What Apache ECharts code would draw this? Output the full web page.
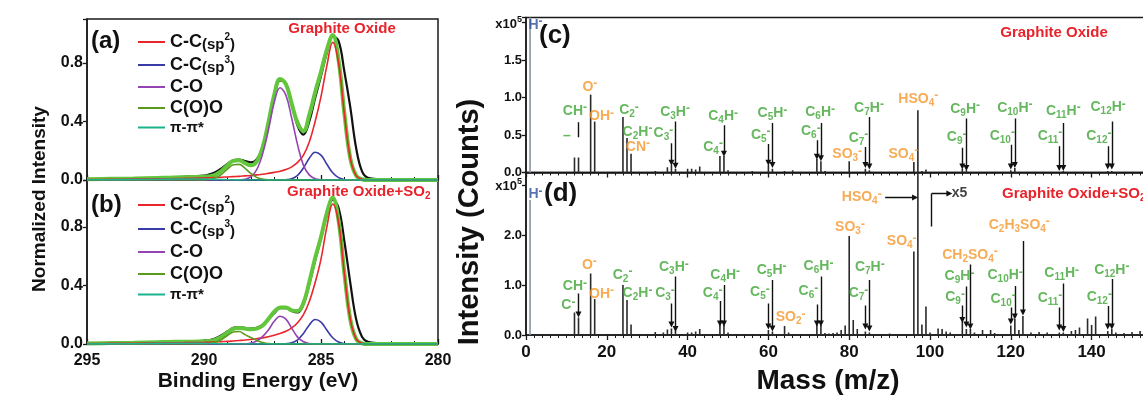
<!DOCTYPE html>
<html><head><meta charset="utf-8">
<script src="https://cdn.jsdelivr.net/npm/echarts@6/dist/echarts.min.js"></script>
<style>html,body{margin:0;padding:0;background:#fff}#c{width:1143px;height:395px}</style>
</head><body><div id="c"></div>
<script>
// ---------- XPS (left) ----------
const BE = [295, 294, 293, 292, 291.5, 291, 290.5, 290, 289.75, 289.5, 289.25, 289, 288.75, 288.5, 288.25, 288, 287.75, 287.5, 287.25, 287, 286.75, 286.5, 286.25, 286, 285.75, 285.5, 285.25, 285, 284.75, 284.5, 284.25, 284, 283.75, 283.5, 283.25, 283, 282.5, 282, 281, 280];

const a_raw = [0.005,0.007,0.01,0.014,0.016,0.02,0.025,0.03,0.04,0.055, 0.08,0.11,0.135,0.14,0.13,0.12,0.14,0.22,0.38,0.56, 0.68,0.66,0.52,0.37,0.31,0.4,0.56,0.71,0.87,0.98, 0.95,0.74,0.5,0.22,0.06,0.015,0.005,0.003,0.002,0.002];
const a_env = [0.005,0.008,0.01,0.014,0.016,0.018,0.02,0.022,0.026,0.037, 0.063,0.1,0.13,0.135,0.115,0.1,0.125,0.22,0.39,0.58, 0.69,0.655,0.52,0.39,0.335,0.445,0.6,0.74,0.89,0.99, 0.82,0.455,0.15,0.03,0.005,0,0,0,0,0];
const a_sp2 = [0.003,0.004,0.006,0.008,0.009,0.010,0.012,0.014,0.015,0.017, 0.019,0.021,0.023,0.025,0.028,0.031,0.035,0.039,0.045,0.052, 0.060,0.072,0.090,0.120,0.170,0.260,0.400,0.570,0.780,0.940, 0.800,0.450,0.150,0.030,0.005,0,0,0,0,0];
const a_sp3 = [0,0,0,0,0,0,0,0,0,0, 0,0,0,0,0,0,0,0,0,0, 0,0.002,0.009,0.032,0.082,0.148,0.19,0.17,0.108,0.049, 0.016,0.004,0,0,0,0,0,0,0,0];
const a_co  = [0,0,0,0,0,0,0,0,0,0, 0,0,0,0.001,0.005,0.021,0.07,0.175,0.34,0.53, 0.63,0.58,0.42,0.24,0.10,0.035,0.009,0.002,0,0, 0,0,0,0,0,0,0,0,0,0];
const a_coo = [0,0,0,0,0,0,0,0.001,0.004,0.015, 0.039,0.074,0.104,0.107,0.081,0.045,0.018,0.006,0.001,0, 0,0,0,0,0,0,0,0,0,0, 0,0,0,0,0,0,0,0,0,0];
const a_pi  = [0,0.002,0.003,0.005,0.006,0.007,0.007,0.006,0.005,0.004, 0.003,0.002,0.001,0.001,0,0,0,0,0,0, 0,0,0,0,0,0,0,0,0,0, 0,0,0,0,0,0,0,0,0,0];

const b_raw = [0.004,0.006,0.009,0.013,0.015,0.016,0.018,0.022,0.027,0.04, 0.06,0.085,0.11,0.115,0.11,0.105,0.11,0.13,0.17,0.21, 0.245,0.245,0.225,0.215,0.27,0.41,0.57,0.72,0.88,0.985, 0.93,0.7,0.42,0.17,0.05,0.015,0.005,0.003,0.002,0.002];
const b_env = [0.004,0.006,0.008,0.012,0.014,0.015,0.016,0.018,0.02,0.03, 0.05,0.078,0.104,0.11,0.105,0.1,0.105,0.125,0.17,0.22, 0.25,0.25,0.23,0.225,0.28,0.423,0.587,0.73,0.895,0.998, 0.844,0.483,0.17,0.035,0.005,0,0,0,0,0];
const b_sp2 = [0.003,0.004,0.005,0.007,0.008,0.009,0.01,0.011,0.012,0.014, 0.016,0.018,0.021,0.024,0.027,0.031,0.036,0.042,0.05,0.06, 0.072,0.087,0.11,0.145,0.2,0.29,0.42,0.58,0.8,0.955, 0.83,0.48,0.17,0.035,0.005,0,0,0,0,0];
const b_sp3 = [0,0,0,0,0,0,0,0,0,0, 0,0,0,0,0,0,0,0,0,0, 0,0.002,0.008,0.028,0.072,0.13,0.167,0.15,0.095,0.043, 0.014,0.003,0,0,0,0,0,0,0,0];
const b_co  = [0,0,0,0,0,0,0,0,0,0, 0,0,0,0,0,0.006,0.02,0.05,0.095,0.155, 0.19,0.17,0.107,0.047,0.015,0.003,0,0,0,0, 0,0,0,0,0,0,0,0,0,0];
const b_coo = [0,0,0,0,0,0,0,0.001,0.003,0.012, 0.031,0.058,0.082,0.085,0.064,0.045,0.025,0.01,0.003,0, 0,0,0,0,0,0,0,0,0,0, 0,0,0,0,0,0,0,0,0,0];
const b_pi  = [0,0.001,0.002,0.004,0.005,0.005,0.005,0.004,0.003,0.002, 0.001,0.001,0,0,0,0,0,0,0,0, 0,0,0,0,0,0,0,0,0,0, 0,0,0,0,0,0,0,0,0,0];

const compNames = ['C-C(sp2)', 'C-C(sp3)', 'C-O', 'C(O)O', 'π-π*'];

// ---------- ToF-SIMS (right) ----------
const massC = [1,12,13,16,17,24,25,26,32,35,36,37,40,41,42,43,48,49,50,56,60,61,64,66,72,73,74,80,84,85,96,97,98,99,108,109,120,121,133,144,145];
const intC  = [2.5,0.2,0.2,1.04,0.68,0.74,0.46,0.25,0.02,0.07,0.1,0.05,0.05,0.05,0.04,0.08,0.22,0.22,0.03,0.02,0.1,0.05,0.02,0.03,0.18,0.15,0.02,0.15,0.05,0.03,0.14,0.83,0.02,0.04,0.05,0.03,0.03,0.06,0.02,0.02,0.02];
const massD = [1,12,13,16,17,24,25,26,32,34,35,36,37,40,41,42,43,44,48,49,50,60,61,62,64,65,66,72,73,74,75,76,77,78,79,80,81,82,84,85,86,90,92,96,97,98,99,100,102,103,104,105,108,109,110,111,113,115,116,120,121,122,123,125,127,129,132,133,135,136,137,139,140,141,144,145,146,148,150,152];
const intD  = [2.7,0.45,0.35,1.23,0.72,1.0,0.7,0.21,0.06,0.05,0.11,0.13,0.09,0.05,0.05,0.07,0.12,0.02,0.2,0.2,0.05,0.1,0.07,0.02,0.18,0.05,0.02,0.23,0.2,0.04,0.03,0.04,0.05,0.1,0.19,1.98,0.3,0.12,0.07,0.05,0.02,0.03,0.02,1.67,4.0,0.21,0.57,0.05,0.13,0.12,0.07,0.05,0.27,0.12,0.12,0.05,0.1,0.1,0.04,0.19,0.32,0.1,0.38,0.05,0.06,0.05,0.05,0.05,0.08,0.1,0.15,0.33,0.2,0.37,0.08,0.12,0.05,0.04,0.06,0.08];

// annotations: [text, mass, value, colourKey, align]
const annotC = [
  ['H^-', 0.6, 1.97, 'b', 'left'], ['–', 10.1, 0.49, 'g'],
  ['CH^-', 12.1, 0.82, 'g'], ['O^-', 15.8, 1.14, 'o'], ['OH^-', 18.7, 0.75, 'o'],
  ['C_2^-', 25.5, 0.83, 'g'], ['C_2H^-', 27.6, 0.54, 'g'], ['CN^-', 27.7, 0.34, 'o'],
  ['C_3H^-', 36.9, 0.81, 'g'], ['C_3^-', 34.0, 0.52, 'g'],
  ['C_4H^-', 48.8, 0.75, 'g'], ['C_4^-', 46.3, 0.34, 'g'],
  ['C_5H^-', 61.0, 0.79, 'g'], ['C_5^-', 58.1, 0.50, 'g'],
  ['C_6H^-', 72.8, 0.80, 'g'], ['C_6^-', 70.5, 0.55, 'g'], ['SO_3^-', 79.5, 0.24, 'o'],
  ['C_7H^-', 84.9, 0.86, 'g'], ['C_7^-', 82.3, 0.46, 'g'],
  ['SO_4^-', 93.4, 0.25, 'o'], ['HSO_4^-', 97.1, 0.98, 'o'],
  ['C_9H^-', 108.7, 0.85, 'g'], ['C_9^-', 106.6, 0.47, 'g'],
  ['C_{10}H^-', 121, 0.86, 'g'], ['C_{10}^-', 117.9, 0.49, 'g'],
  ['C_{11}H^-', 133, 0.82, 'g'], ['C_{11}^-', 129.7, 0.49, 'g'],
  ['C_{12}H^-', 144.1, 0.87, 'g'], ['C_{12}^-', 141.8, 0.48, 'g']
];
const annotD = [
  ['H^-', 0.6, 2.81, 'b', 'left'],
  ['CH^-', 12.1, 0.97, 'g'], ['C^-', 10.5, 0.59, 'g'], ['O^-', 15.7, 1.4, 'o'], ['OH^-', 18.7, 0.82, 'o'],
  ['C_2^-', 23.9, 1.2, 'g'], ['C_2H^-', 27.6, 0.83, 'g'],
  ['C_3H^-', 36.6, 1.35, 'g'], ['C_3^-', 34.4, 0.83, 'g'],
  ['C_4H^-', 49.3, 1.2, 'g'], ['C_4^-', 46.2, 0.83, 'g'],
  ['C_5H^-', 60.8, 1.3, 'g'], ['C_5^-', 57.9, 0.85, 'g'], ['SO_2^-', 65.5, 0.35, 'o'],
  ['HSO_4^-', 83.1, 2.75, 'o'], ['SO_3^-', 80.2, 2.15, 'o'], ['SO_4^-', 93.0, 1.87, 'o'],
  ['C_6H^-', 72.4, 1.37, 'g'], ['C_6^-', 69.9, 0.87, 'g'],
  ['C_7H^-', 85.1, 1.35, 'g'], ['C_7^-', 82.3, 0.83, 'g'],
  ['CH_2SO_4^-', 109.9, 1.6, 'o'], ['C_9H^-', 107.3, 1.17, 'g'], ['C_9^-', 106.2, 0.75, 'g'],
  ['C_2H_3SO_4^-', 122.1, 2.2, 'o'],
  ['C_{10}H^-', 118.6, 1.19, 'g'], ['C_{10}^-', 118.1, 0.72, 'g'],
  ['C_{11}H^-', 132.6, 1.23, 'g'], ['C_{11}^-', 129.7, 0.73, 'g'],
  ['C_{12}H^-', 145, 1.3, 'g'], ['C_{12}^-', 141.9, 0.75, 'g'],
  ['x5', 105.4, 2.83, 'k', 'left']
];
// arrows: [x1, y1, x2, y2, head]
const arrowsC = [
  [12.9,0.67,12.9,0.47,0],
  [37,0.68,37,0.09,1],[36,0.39,36,0.13,1],[49,0.63,49,0.25,1],
  [61,0.66,61,0.1,1],[60,0.38,60,0.13,1],[73,0.66,73,0.19,1],[72,0.43,72,0.21,1],
  [85,0.74,85,0.08,1],[84,0.34,84,0.1,1],[109,0.72,109,0.06,1],[108,0.33,108,0.08,1],
  [121,0.72,121,0.1,1],[120,0.37,120,0.08,1],[133,0.66,133,0.06,1],[132,0.35,132,0.06,1],
  [145,0.68,145,0.08,1],[144,0.35,144,0.08,1]
];
const arrowsD = [
  [13,0.83,13,0.41,1],[37,1.17,37,0.12,1],[36,0.63,36,0.21,1],[49,1.0,49,0.23,1],[48,0.68,48,0.23,1],
  [61,1.1,61,0.13,1],[60,0.63,60,0.17,1],[73,1.17,73,0.23,1],[72,0.61,72,0.23,1],
  [85,1.1,85,0.13,1],[84,0.59,84,0.17,1],[110,1.41,110,0.17,1],[109,0.97,109,0.21,1],[108,0.59,108,0.3,1],
  [123,1.88,123,0.45,1],[121,0.98,121,0.37,1],[120,0.55,120,0.27,1],
  [133,1.03,133,0.12,1],[132,0.55,132,0.15,1],[145,1.12,145,0.17,1],[144,0.58,144,0.17,1],
  [88.9,2.75,96.3,2.75,1],[100.4,2.17,100.4,2.83,0],[100.4,2.83,104.8,2.83,1]
];

// ---------- chart ----------
const FONT = "'Liberation Sans', Arial, sans-serif";
const AX = '#1a1a1a';
const COL = {sp2:'#e8262b', sp3:'#3b3ba6', co:'#9444b2', coo:'#5c9a1e', pi:'#1db38c', env:'#62c63c', raw:'#111111'};
const TXT = {g:'#3ea535', o:'#f5962a', b:'#2c4d9e', k:'#111111'};

function toRich(s){
  let out=''; const re=/_\{(\d+)\}|_(\d)|\^(-)|([^_^]+)/g; let m;
  while((m=re.exec(s))){
    if(m[1]||m[2]) out+='{s|'+(m[1]||m[2])+'}';
    else if(m[3]) out+='{p|-}';
    else out+='{n|'+m[4]+'}';
  }
  return out;
}
const richLbl = {
  n:{fontSize:14, fontWeight:'bold', fontFamily:FONT, lineHeight:18},
  s:{fontSize:10, fontWeight:'bold', fontFamily:FONT, lineHeight:10, verticalAlign:'bottom'},
  p:{fontSize:12, fontWeight:'bold', fontFamily:FONT, lineHeight:10, verticalAlign:'top'}
};

function pairs(xs, ys){ return xs.map((x,i)=>[x, ys[i]]); }

function xpsSeries(g, raw, env, comps){
  const out = [];
  out.push({type:'line', xAxisIndex:g, yAxisIndex:g, data:pairs(BE, raw), smooth:0.4, showSymbol:false, silent:true,
    lineStyle:{color:COL.raw, width:2.2}, z:2});
  out.push({type:'line', xAxisIndex:g, yAxisIndex:g, data:pairs(BE, env), smooth:0.4, showSymbol:false, silent:true,
    lineStyle:{color:COL.env, width:4}, z:3});
  const keys = ['sp2','sp3','co','coo','pi'];
  comps.forEach((c,i)=>{
    out.push({name:compNames[i], type:'line', xAxisIndex:g, yAxisIndex:g, data:pairs(BE, c), smooth:0.4, showSymbol:false,
      silent:true, color:COL[keys[i]], lineStyle:{color:COL[keys[i]], width:1.6}, z:4});
  });
  return out;
}

function stickSeries(g, ms, vs){
  return {type:'bar', xAxisIndex:g, yAxisIndex:g, data:pairs(ms, vs), barWidth:1.6, silent:true, z:3,
    itemStyle:{color:(p)=> p.data[0]===1 ? '#8a96a3' : '#2a2a2a'}};
}
function labelSeries(g, ann){
  return {type:'scatter', xAxisIndex:g, yAxisIndex:g, symbolSize:0, silent:true, z:10, clip:false,
    data: ann.map(a=>({value:[a[1], a[2]], txt:toRich(a[0]),
      label:{color:TXT[a[3]], align:a[4]||'center'}})),
    label:{show:true, position:[0,0], verticalAlign:'middle', align:'center', formatter:(p)=>p.data.txt, rich:richLbl}};
}
function arrowSeries(g, arr, head){
  return {type:'lines', coordinateSystem:'cartesian2d', xAxisIndex:g, yAxisIndex:g, silent:true, z:9,
    symbol: head ? ['none','triangle'] : ['none','none'], symbolSize:6,
    lineStyle:{color:'#111', width:1.4, opacity:1},
    data: arr.filter(a=>!!a[4]===head).map(a=>({coords:[[a[0],a[1]],[a[2],a[3]]]}))};
}

function fmtTick(step, topVal){
  return (v)=>{
    if (topVal!==undefined && Math.abs(v-topVal)<1e-6) return '{n|x10}{p|5}';
    const r = v/step; return Math.abs(r-Math.round(r))<1e-6 ? v.toFixed(1) : '';
  };
}
const axLine = {show:true, onZero:false, lineStyle:{color:AX, width:1.5}};

const xBE = (g, showLabel)=>({gridIndex:g, type:'value', min:280, max:295, interval:5, inverse:true,
  axisLine:axLine, axisTick:{show:true, inside:true, length:5, lineStyle:{color:AX, width:1.3}},
  minorTick:{show:true, splitNumber:5, length:3, lineStyle:{color:AX, width:1}},
  splitLine:{show:false}, minorSplitLine:{show:false},
  axisLabel:{show:showLabel, color:'#111', fontFamily:FONT, fontWeight:'bold', fontSize:16, margin:9}});
const yXPS = (g, max)=>({gridIndex:g, type:'value', min:0, max:max, interval:0.4,
  axisLine:axLine, axisTick:{show:true, inside:false, length:4, lineStyle:{color:AX, width:1.3}},
  splitLine:{show:false},
  axisLabel:{color:'#111', fontFamily:FONT, fontWeight:'bold', fontSize:16, margin:4, formatter:fmtTick(0.4)}});
const xMass = (g, showLabel)=>({gridIndex:g, type:'value', min:0, max:160, interval:20,
  axisLine:axLine, axisTick:{show:true, inside:false, length:5, lineStyle:{color:AX, width:1.3}},
  minorTick:{show:true, splitNumber:10, length:3, lineStyle:{color:AX, width:1}},
  splitLine:{show:false}, minorSplitLine:{show:false},
  axisLabel:{show:showLabel, color:'#111', fontFamily:FONT, fontWeight:'bold', fontSize:17, margin:9}});
const yMass = (g, max, step, top)=>({gridIndex:g, type:'value', min:0, max:max, interval:step,
  axisLine:axLine, axisTick:{show:true, inside:false, length:4, lineStyle:{color:AX, width:1.3}},
  splitLine:{show:false},
  axisLabel:{color:'#111', fontFamily:FONT, fontWeight:'bold', fontSize:13, margin:4, formatter:fmtTick(step, top),
    rich:{n:{fontSize:13, fontWeight:'bold', fontFamily:FONT, color:'#111', lineHeight:16, verticalAlign:'bottom'},
          p:{fontSize:9, fontWeight:'bold', fontFamily:FONT, color:'#111', verticalAlign:'top', lineHeight:8}}}});

const legendRich = {
  'C-C(sp2)':'{m|C-C}{s|(sp}{p|2}{s|)}',
  'C-C(sp3)':'{m|C-C}{s|(sp}{p|3}{s|)}',
  'C-O':'{m|C-O}', 'C(O)O':'{m|C(O)O}', 'π-π*':'{q|π-π*}'
};
const legendText = {color:'#111', fontFamily:FONT, fontWeight:'bold', fontSize:18,
  rich:{m:{fontSize:18, fontWeight:'bold', fontFamily:FONT, lineHeight:20},
        s:{fontSize:15, fontWeight:'bold', fontFamily:FONT, lineHeight:16, verticalAlign:'bottom'},
        p:{fontSize:10, fontWeight:'bold', fontFamily:FONT, lineHeight:10, verticalAlign:'top'},
        q:{fontSize:15, fontWeight:'bold', fontFamily:FONT, lineHeight:20}}};
const mkLegend = (top, gap)=>({orient:'vertical', left:133, top:top, itemWidth:27, itemHeight:2, icon:'rect', itemGap:gap,
  data:compNames, selectedMode:false, formatter:(n)=>legendRich[n], textStyle:legendText});

const t = (text, x, y, size, fill, align, extra)=>Object.assign({type:'text', silent:true,
  style:{text:text, x:x, y:y, font:'bold '+size+'px '+FONT, fill:fill, align:align||'center', verticalAlign:'middle'}}, extra||{});
const redRich = {n:{fontSize:15, fontWeight:'bold', fontFamily:FONT, fill:'#e8232b', lineHeight:18},
  s:{fontSize:10, fontWeight:'bold', fontFamily:FONT, fill:'#e8232b', lineHeight:10, verticalAlign:'bottom'}};

const gridBase = {show:true, borderColor:AX, borderWidth:1.5, backgroundColor:'transparent', containLabel:false, outerBoundsMode:'none'};
const option = {
  animation:false,
  backgroundColor:'#ffffff',
  grid:[
    Object.assign({left:87, top:19, width:351, height:161}, gridBase),
    Object.assign({left:87, top:180, width:351, height:164}, gridBase),
    Object.assign({left:526, top:17.5, width:646.4, height:155}, gridBase),
    Object.assign({left:526, top:172.5, width:646.4, height:162.5}, gridBase)
  ],
  xAxis:[xBE(0,false), xBE(1,true), xMass(2,false), xMass(3,true)],
  yAxis:[yXPS(0,1.1), yXPS(1,1.12), yMass(2,2.07,0.5,2), yMass(3,3.25,1,3)],
  legend:[mkLegend(27, 3), mkLegend(190, 4)],
  series:[
    ...xpsSeries(0, a_raw, a_env, [a_sp2, a_sp3, a_co, a_coo, a_pi]),
    ...xpsSeries(1, b_raw, b_env, [b_sp2, b_sp3, b_co, b_coo, b_pi]),
    stickSeries(2, massC, intC), stickSeries(3, massD, intD),
    arrowSeries(2, arrowsC, true), arrowSeries(2, arrowsC, false),
    arrowSeries(3, arrowsD, true), arrowSeries(3, arrowsD, false),
    labelSeries(2, annotC), labelSeries(3, annotD)
  ],
  graphic:[
    t('(a)', 91, 41, 24, '#111', 'left'),
    t('(b)', 91, 205, 24, '#111', 'left'),
    t('(c)', 539, 36, 26, '#111', 'left'),
    t('(d)', 544, 194, 26, '#111', 'left'),
    t('Graphite Oxide', 342, 29, 15, '#e8232b'),
    {type:'text', silent:true, style:{text:'{n|Graphite Oxide+SO}{s|2}', x:287, y:192, rich:redRich, align:'left', verticalAlign:'middle', font:'bold 15px '+FONT, fill:'#e8232b'}},
    t('Graphite Oxide', 1054, 33, 15, '#e8232b'),
    {type:'text', silent:true, style:{text:'{n|Graphite Oxide+SO}{s|2}', x:1002, y:194, rich:redRich, align:'left', verticalAlign:'middle', font:'bold 15px '+FONT, fill:'#e8232b'}},
    t('Normalized Intensity', 0, 0, 19, '#111', 'center', {x:40, y:199, rotation:Math.PI/2}),
    t('Binding Energy (eV)', 258, 381, 21, '#111'),
    t('Intensity (Counts)', 0, 0, 29, '#111', 'center', {x:470, y:222, rotation:Math.PI/2}),
    t('Mass (m/z)', 828, 381, 28, '#111')
  ]
};
const chart = echarts.init(document.getElementById('c'));
chart.setOption(option);
</script></body></html>
